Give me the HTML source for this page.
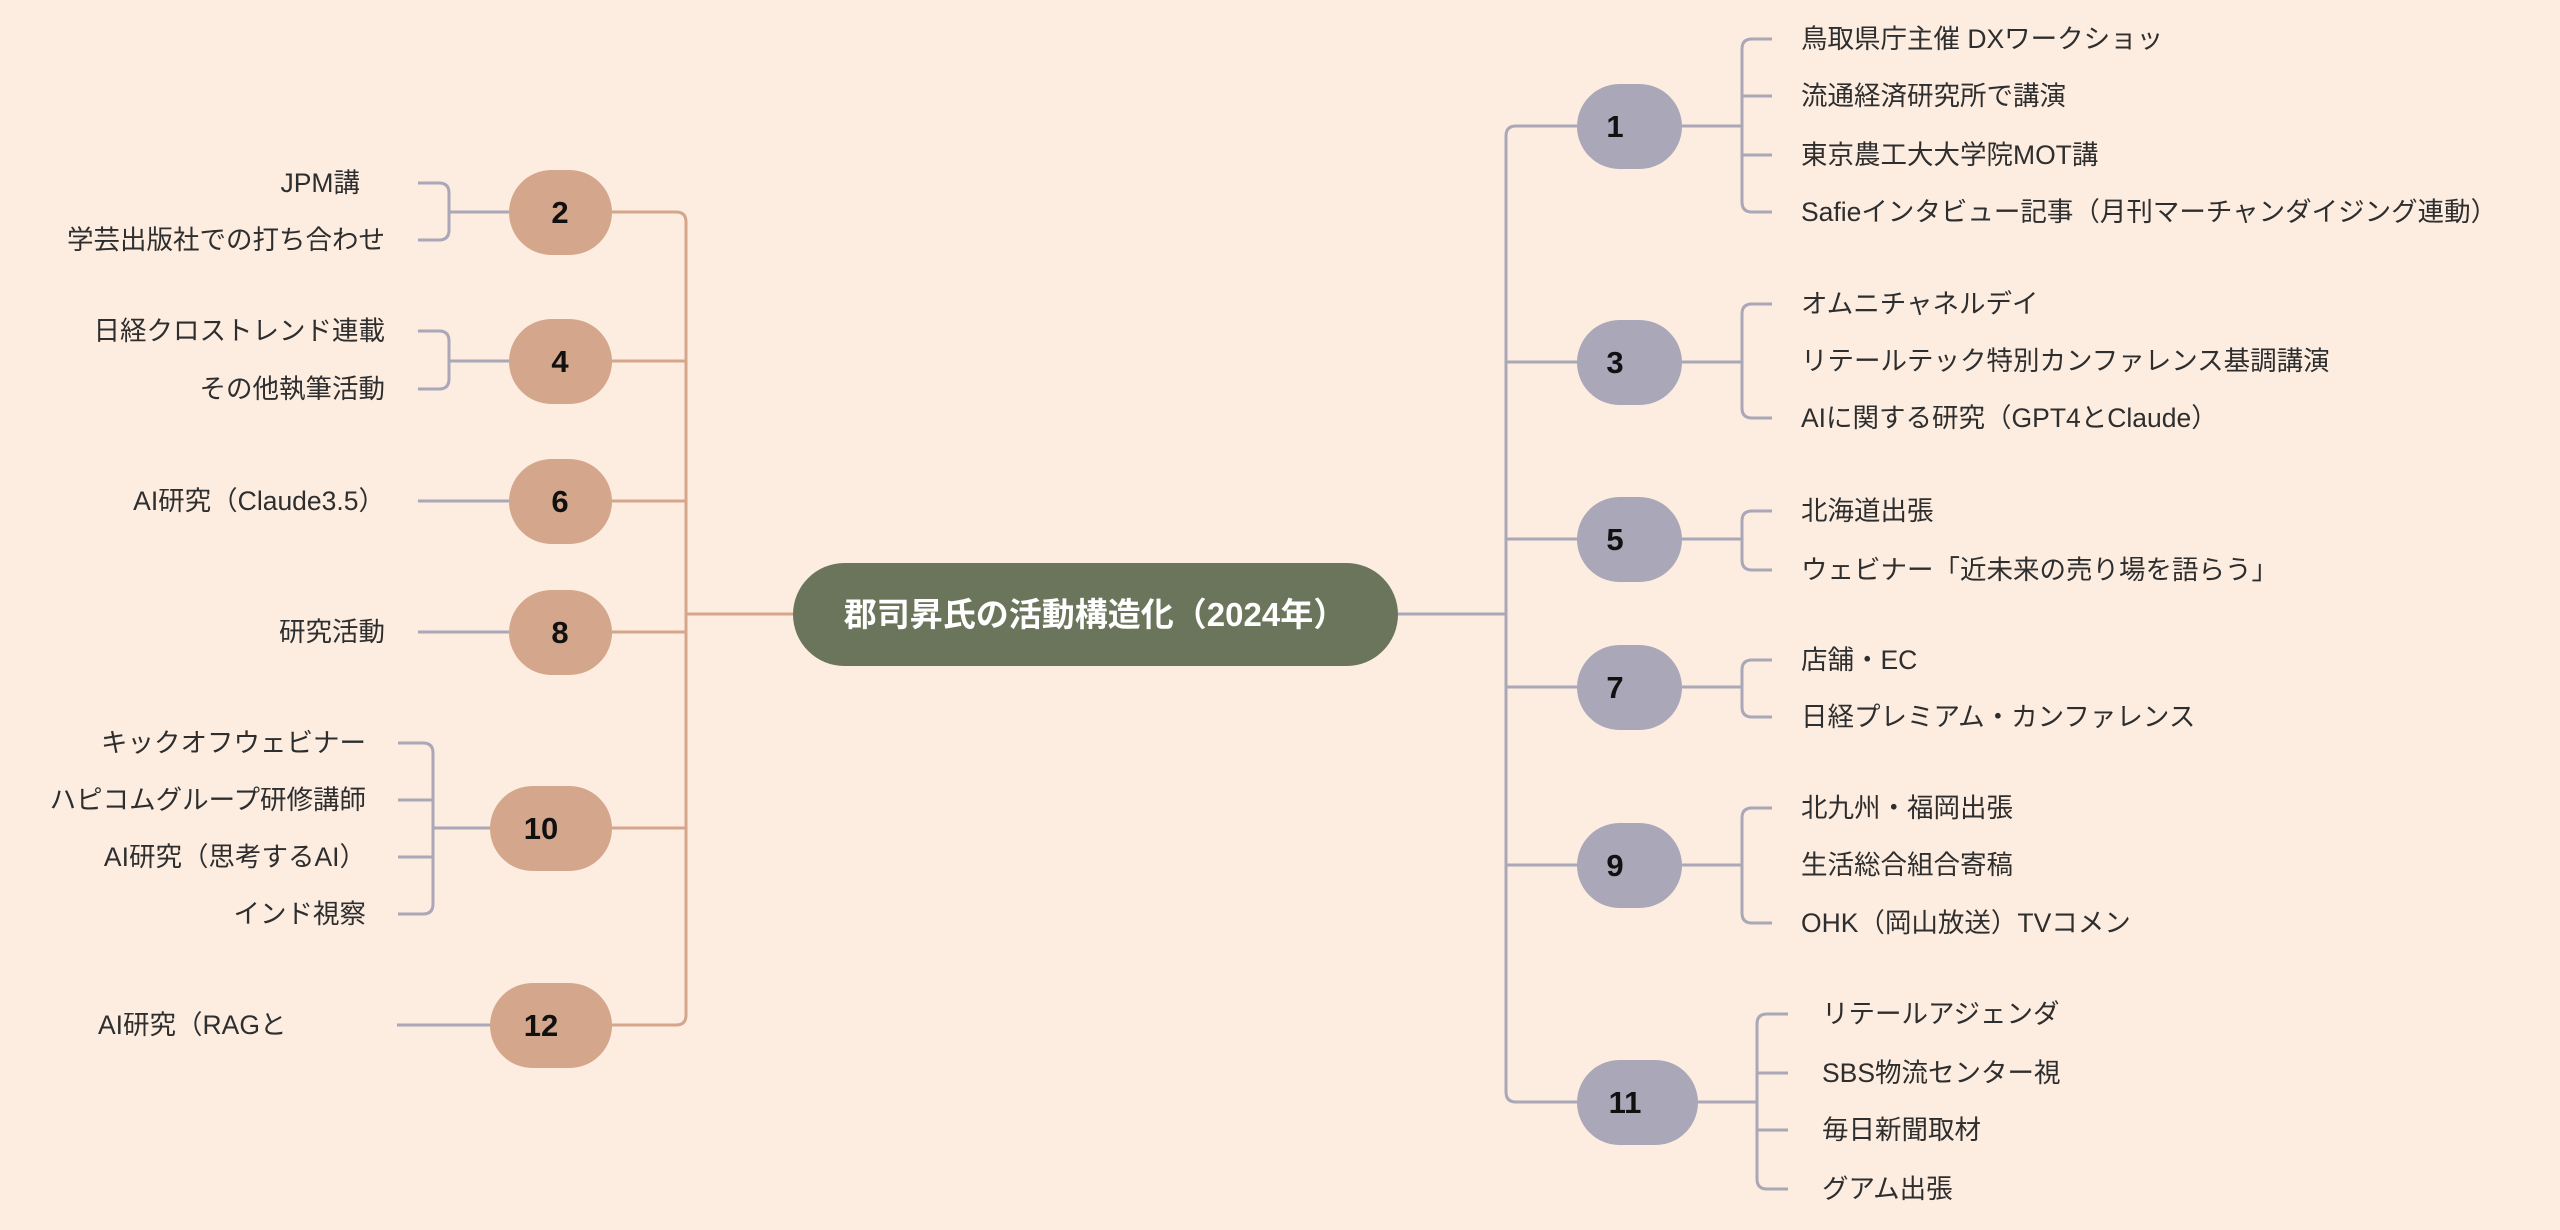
<!DOCTYPE html>
<html><head><meta charset="utf-8">
<style>
html,body{margin:0;padding:0;background:#fdede1;}
svg{display:block;}
text{font-family:"Liberation Sans","Noto Sans CJK JP",sans-serif;}
.c{font-size:26.5px;fill:#2e2e2e;}
.n{font-size:31px;font-weight:bold;fill:#111;text-anchor:middle;}
</style></head><body>
<svg width="2560" height="1230" viewBox="0 0 2560 1230" xmlns="http://www.w3.org/2000/svg">
<rect width="2560" height="1230" fill="#fdede1"/>
<g fill="none" stroke="#d4a68b" stroke-width="3">
<path d="M686,614 H793"/>
<path d="M686,222 V1015"/>
<path d="M612,212 H676 Q686,212 686,222"/>
<path d="M612,361 H686"/><path d="M612,501 H686"/><path d="M612,632 H686"/><path d="M612,828 H686"/>
<path d="M612,1025 H676 Q686,1025 686,1015"/>
</g>
<g fill="none" stroke="#a9a7b8" stroke-width="3">
<path d="M1398,614 H1506"/>
<path d="M1506,136 V1092"/>
<path d="M1577,126 H1516 Q1506,126 1506,136"/>
<path d="M1506,362 H1577"/><path d="M1506,539 H1577"/><path d="M1506,687 H1577"/><path d="M1506,865 H1577"/>
<path d="M1506,1092 Q1506,1102 1516,1102 H1577"/>
<path d="M1682,126 H1742"/><path d="M1742,49 V202"/>
<path d="M1742,49 Q1742,39 1752,39 H1772"/><path d="M1742,202 Q1742,212 1752,212 H1772"/>
<path d="M1742,96 H1772"/><path d="M1742,155 H1772"/>
<path d="M1682,362 H1742"/><path d="M1742,314 V408"/>
<path d="M1742,314 Q1742,304 1752,304 H1772"/><path d="M1742,408 Q1742,418 1752,418 H1772"/>
<path d="M1682,539 H1742"/><path d="M1742,521 V560"/>
<path d="M1742,521 Q1742,511 1752,511 H1772"/><path d="M1742,560 Q1742,570 1752,570 H1772"/>
<path d="M1682,687 H1742"/><path d="M1742,670 V707"/>
<path d="M1742,670 Q1742,660 1752,660 H1772"/><path d="M1742,707 Q1742,717 1752,717 H1772"/>
<path d="M1682,865 H1742"/><path d="M1742,818 V913"/>
<path d="M1742,818 Q1742,808 1752,808 H1772"/><path d="M1742,913 Q1742,923 1752,923 H1772"/>
<path d="M1698,1102 H1757"/><path d="M1757,1024 V1179"/>
<path d="M1757,1024 Q1757,1014 1767,1014 H1788"/><path d="M1757,1179 Q1757,1189 1767,1189 H1788"/>
<path d="M1757,1073 H1788"/><path d="M1757,1130 H1788"/>
<path d="M509,212 H449"/><path d="M449,193 V230"/>
<path d="M449,193 Q449,183 439,183 H418"/><path d="M449,230 Q449,240 439,240 H418"/>
<path d="M509,361 H449"/><path d="M449,341 V379"/>
<path d="M449,341 Q449,331 439,331 H418"/><path d="M449,379 Q449,389 439,389 H418"/>
<path d="M418,501 H509"/><path d="M418,632 H509"/>
<path d="M490,828 H433"/><path d="M433,753 V904"/>
<path d="M433,753 Q433,743 423,743 H398"/><path d="M433,904 Q433,914 423,914 H398"/>
<path d="M433,800 H398"/><path d="M433,857 H398"/>
<path d="M397,1025 H490"/>
</g>
<rect x="793" y="563" width="605" height="103" rx="51.5" fill="#6b755b"/>
<text x="1095" y="626" text-anchor="middle" style="font-size:33px;font-weight:bold;fill:#fff">郡司昇氏の活動構造化（2024年）</text>
<g fill="#d4a68b">
<rect x="509" y="170" width="103" height="85" rx="42.5"/>
<rect x="509" y="319" width="103" height="85" rx="42.5"/>
<rect x="509" y="459" width="103" height="85" rx="42.5"/>
<rect x="509" y="590" width="103" height="85" rx="42.5"/>
<rect x="490" y="786" width="122" height="85" rx="42.5"/>
<rect x="490" y="983" width="122" height="85" rx="42.5"/>
</g>
<text class="n" x="560" y="223">2</text>
<text class="n" x="560" y="372">4</text>
<text class="n" x="560" y="512">6</text>
<text class="n" x="560" y="643">8</text>
<text class="n" x="541" y="839">10</text>
<text class="n" x="541" y="1036">12</text>
<g fill="#a9a7b8">
<rect x="1577" y="84" width="105" height="85" rx="42.5"/>
<rect x="1577" y="320" width="105" height="85" rx="42.5"/>
<rect x="1577" y="497" width="105" height="85" rx="42.5"/>
<rect x="1577" y="645" width="105" height="85" rx="42.5"/>
<rect x="1577" y="823" width="105" height="85" rx="42.5"/>
<rect x="1577" y="1060" width="121" height="85" rx="42.5"/>
</g>
<text class="n" x="1615" y="137">1</text>
<text class="n" x="1615" y="373">3</text>
<text class="n" x="1615" y="550">5</text>
<text class="n" x="1615" y="698">7</text>
<text class="n" x="1615" y="876">9</text>
<text class="n" x="1625" y="1113">11</text>
<g class="c" text-anchor="end">
<text x="360" y="192">JPM講</text>
<text x="385" y="249">学芸出版社での打ち合わせ</text>
<text x="385" y="340">日経クロストレンド連載</text>
<text x="385" y="398">その他執筆活動</text>
<text x="385" y="510">AI研究（Claude3.5）</text>
<text x="385" y="641">研究活動</text>
<text x="366" y="752">キックオフウェビナー</text>
<text x="366" y="809">ハピコムグループ研修講師</text>
<text x="366" y="866">AI研究（思考するAI）</text>
<text x="366" y="923">インド視察</text>
</g>
<text class="c" x="98" y="1034">AI研究（RAGと</text>
<g class="c">
<text x="1801" y="48">鳥取県庁主催 DXワークショッ</text>
<text x="1801" y="105">流通経済研究所で講演</text>
<text x="1801" y="164">東京農工大大学院MOT講</text>
<text x="1801" y="221">Safieインタビュー記事（月刊マーチャンダイジング連動）</text>
<text x="1801" y="313">オムニチャネルデイ</text>
<text x="1801" y="370">リテールテック特別カンファレンス基調講演</text>
<text x="1801" y="427">AIに関する研究（GPT4とClaude）</text>
<text x="1801" y="520">北海道出張</text>
<text x="1801" y="579">ウェビナー「近未来の売り場を語らう」</text>
<text x="1801" y="669">店舗・EC</text>
<text x="1801" y="726">日経プレミアム・カンファレンス</text>
<text x="1801" y="817">北九州・福岡出張</text>
<text x="1801" y="874">生活総合組合寄稿</text>
<text x="1801" y="932">OHK（岡山放送）TVコメン</text>
<text x="1822" y="1023">リテールアジェンダ</text>
<text x="1822" y="1082">SBS物流センター視</text>
<text x="1822" y="1139">毎日新聞取材</text>
<text x="1822" y="1198">グアム出張</text>
</g>
</svg>
</body></html>
